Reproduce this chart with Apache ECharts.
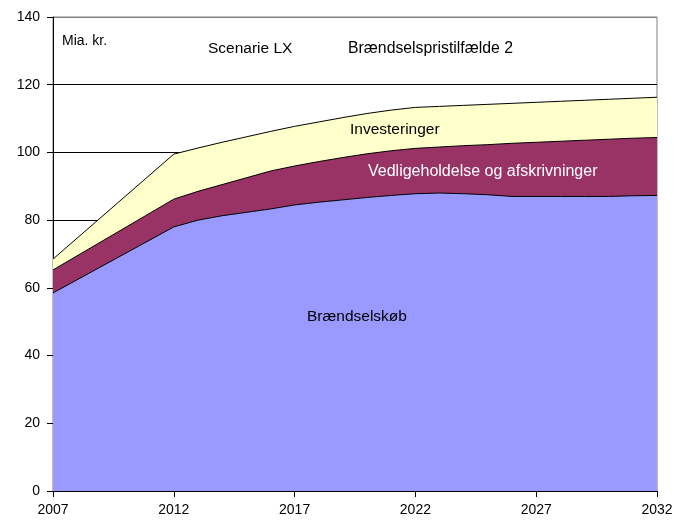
<!DOCTYPE html>
<html>
<head>
<meta charset="utf-8">
<script src="https://cdn.jsdelivr.net/npm/echarts@6/dist/echarts.min.js"></script>
<style>
html, body { margin: 0; padding: 0; background: #fff; }
#chartmain { width: 685px; height: 529px; }
</style>
</head>
<body>
<div id="chartmain"></div>
<script>
// aar med data (2007, saa aarligt fra 2012)
var years = [2007, 2012, 2013, 2014, 2015, 2016, 2017, 2018, 2019, 2020, 2021, 2022,
	2023, 2024, 2025, 2026, 2027, 2028, 2029, 2030, 2031, 2032];
var braendsel = [58.5, 78.0, 80.0, 81.3, 82.3, 83.3, 84.5, 85.3, 86.0, 86.7, 87.3, 87.8,
	88.0, 87.8, 87.5, 87.0, 87.0, 87.0, 87.0, 87.0, 87.2, 87.3];
var vedligehold = [6.8, 8.2, 8.5, 9.2, 10.2, 11.2, 11.5, 12.0, 12.5, 12.9, 13.2, 13.4,
	13.6, 14.2, 14.8, 15.7, 16.0, 16.3, 16.6, 16.9, 17.0, 17.1];
var investering = [3.2, 13.3, 12.8, 12.5, 12.1, 11.7, 11.7, 11.7, 11.8, 11.9, 12.0, 12.1,
	12.0, 11.9, 11.9, 11.8, 11.8, 11.8, 11.8, 11.8, 11.8, 11.9];
var xTicks = [2007, 2012, 2017, 2022, 2027, 2032];
var yTicks = [0, 20, 40, 60, 80, 100, 120, 140];

// akkumuleret (stablet) - de tre lag ovenpaa hinanden
function stacked(lists) {
	var out = [];
	for (var i = 0; i < years.length; i++) {
		var sum = 0;
		for (var k = 0; k < lists.length; k++) sum += lists[k][i];
		out.push([years[i], Math.round(sum * 10) / 10]);
	}
	return out;
}

var txtFont = 'Liberation Sans, Arial, sans-serif';

function areaSeries(name, data, color, z) {
	return {
		name: name,
		type: 'line',
		data: data,
		z: z,
		showSymbol: false,
		symbol: 'none',
		lineStyle: { color: '#000', width: 1 },
		areaStyle: { color: color, opacity: 1 },
		silent: true
	};
}

var option = {
	animation: false,
	grid: {
		left: 53, right: 28, top: 17, bottom: 38,
		show: true, borderColor: '#808080', borderWidth: 1
	},
	xAxis: {
		type: 'value',
		min: xTicks[0], max: xTicks[xTicks.length - 1], interval: 5,
		axisLine: { show: true, onZero: false, lineStyle: { color: '#000', width: 1 } },
		axisTick: { show: true, length: 6, lineStyle: { color: '#000' } },
		axisLabel: {
			color: '#000', fontSize: 14, fontFamily: txtFont, margin: 12,
			formatter: function (v) { return String(v); }
		},
		splitLine: { show: false }
	},
	yAxis: {
		type: 'value',
		min: yTicks[0], max: yTicks[yTicks.length - 1], interval: 20,
		axisLine: { show: true, lineStyle: { color: '#000', width: 1 } },
		axisTick: { show: true, length: 6, lineStyle: { color: '#000' } },
		axisLabel: { color: '#000', fontSize: 14, fontFamily: txtFont, margin: 13 },
		splitLine: {
			show: true,
			lineStyle: { color: ['#000', '#000', '#000', '#000', '#000', '#000', '#000', '#808080'], width: 1 }
		}
	},
	graphic: [
		{ type: 'text', left: 62, top: 34, style: { text: 'Mia. kr.', font: '14px ' + txtFont, fill: '#000' } },
		{ type: 'text', left: 208, top: 41, style: { text: 'Scenarie LX', font: '15.5px ' + txtFont, fill: '#000' } },
		{ type: 'text', left: 348, top: 41, style: { text: 'Brændselspristilfælde 2', font: '15.8px ' + txtFont, fill: '#000' } },
		{ type: 'text', left: 350, top: 122, z: 100, style: { text: 'Investeringer', font: '15.5px ' + txtFont, fill: '#000' } },
		{ type: 'text', left: 368, top: 164, z: 100, style: { text: 'Vedligeholdelse og afskrivninger', font: '16px ' + txtFont, fill: '#fff' } },
		{ type: 'text', left: 307, top: 309, z: 100, style: { text: 'Brændselskøb', font: '15.5px ' + txtFont, fill: '#000' } }
	],
	series: [
		areaSeries('Investeringer', stacked([braendsel, vedligehold, investering]), '#ffffcc', 2),
		areaSeries('Vedligeholdelse og afskrivninger', stacked([braendsel, vedligehold]), '#993366', 3),
		areaSeries('Brændselskøb', stacked([braendsel]), '#9999ff', 4)
	]
};

var myChart = echarts.init(document.getElementById('chartmain'));
myChart.setOption(option);
</script>
</body>
</html>
